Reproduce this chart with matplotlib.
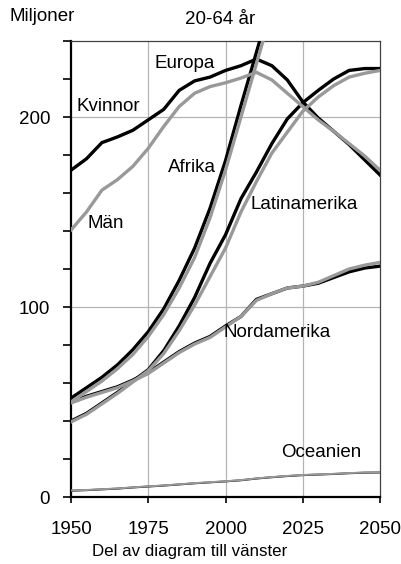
import matplotlib
matplotlib.use("Agg")
import matplotlib.pyplot as plt
from matplotlib.ticker import MultipleLocator

plt.rcParams['font.family'] = ['Liberation Sans', 'DejaVu Sans']

years = list(range(1950, 2051, 5))
years_afrika = list(range(1950, 2016, 5))

europa_kvinnor = [172, 178, 186.5, 189.5, 193, 198.5, 204, 214, 219, 221, 224.5,
                  227, 230.5, 227, 219.5, 208, 199.5, 192.5, 185.5, 177.5, 169.5]
europa_man = [140.5, 150, 161.5, 167, 174, 183.5, 195, 205.5, 212.5, 216, 218,
              220.5, 223.5, 219.5, 212.5, 205.5, 198.5, 192.5, 186, 179.5, 172]

latin_kvinnor = [40, 44, 49.5, 55, 61, 67, 77, 90, 105, 123, 138, 157, 171,
                 186, 199, 207.5, 214, 220, 224.5, 225.5, 225.5]
latin_man = [39.5, 43.5, 49, 54.5, 60.5, 66.5, 75.5, 87.5, 101, 116, 131, 150,
             166, 181, 192, 203, 210.5, 216.5, 221, 223, 224.5]

nord_kvinnor = [50, 53, 55.5, 58, 61.5, 65.5, 71, 76.5, 81, 84.5, 90, 95, 104,
                107, 110, 111, 112.5, 115.5, 118.5, 120.5, 121.5]
nord_man = [49.5, 52.5, 55, 57.5, 61, 65, 70.5, 76, 80.5, 84, 89.5, 95, 103.5,
            107, 110, 111, 113, 116.5, 120, 122, 123.5]

afrika_kvinnor = [52, 57.5, 63, 69.5, 77.5, 87, 99, 114, 131, 152, 177, 206, 234, 262]
afrika_man = [50, 55.5, 61, 67.5, 75, 84.5, 96, 110, 126, 147, 172, 200, 228, 256]

oceanien_kvinnor = [3.3, 3.6, 4, 4.4, 5, 5.5, 6, 6.6, 7.2, 7.7, 8.2, 8.8, 9.7,
                    10.4, 11, 11.5, 11.8, 12.1, 12.5, 12.8, 12.9]
oceanien_man = [3.4, 3.7, 4.1, 4.5, 5.1, 5.6, 6.1, 6.7, 7.3, 7.8, 8.3, 8.9, 9.8,
                10.5, 11.1, 11.6, 11.9, 12.2, 12.6, 12.9, 13.0]

region_labels = ["Europa", "Kvinnor", "Afrika", "Män", "Latinamerika",
                 "Nordamerika", "Oceanien"]
label_pos = [(1976.9, 228.3), (1951.8, 205.4), (1981.5, 173.5), (1955.3, 144),
             (2008.2, 153.7), (1999.5, 86.6), (2018, 23.2)]

W, H = 402, 564
fig = plt.figure(figsize=(W / 100, H / 100), dpi=100)
ax = fig.add_axes([71 / W, 1 - 497 / H, (380 - 71) / W, (497 - 41) / H])

BLACK = '#000000'
GRAY = '#999999'
LW = 2.4

pairs = [
    (years, europa_kvinnor, europa_man, LW),
    (years, latin_kvinnor, latin_man, LW),
    (years_afrika, afrika_kvinnor, afrika_man, LW),
    (years, nord_kvinnor, nord_man, LW),
    (years, oceanien_kvinnor, oceanien_man, 1.4),
]
for xs, kv, ma, lw in pairs:
    ax.plot(xs, kv, color=BLACK, lw=lw, solid_joinstyle='miter', zorder=3)
for xs, kv, ma, lw in pairs:
    ax.plot(xs, ma, color=GRAY, lw=lw, solid_joinstyle='miter', zorder=4)

ax.set_xlim(1950, 2050)
ax.set_ylim(0, 240)
ax.set_xticks([1950, 1975, 2000, 2025, 2050])
ax.set_yticks([0, 100, 200])
ax.yaxis.set_minor_locator(MultipleLocator(20))

for y in [100, 200]:
    ax.axhline(y, color='#b4b4b4', lw=0.9, zorder=1)
for x in [1975, 2000, 2025]:
    ax.axvline(x, color='#b4b4b4', lw=0.9, zorder=1)

for s in ['left', 'bottom']:
    ax.spines[s].set_color('black')
    ax.spines[s].set_linewidth(1.6)
for s in ['top', 'right']:
    ax.spines[s].set_color('#404040')
    ax.spines[s].set_linewidth(0.9)

ax.tick_params(axis='y', which='both', direction='out', length=5.5, width=1.2,
               labelsize=13.5, pad=9.5)
ax.tick_params(axis='x', which='both', direction='out', length=4, width=1.2,
               labelsize=13.5, pad=13)

for txt, (x, y) in zip(region_labels, label_pos):
    ax.text(x, y, txt, ha='left', va='center', fontsize=13.5, zorder=5)

fig.text(10 / W, 1 - 20.7 / H, "Miljoner", ha='left', va='baseline', fontsize=13.5)
fig.text(220.5 / W, 1 - 24 / H, "20-64 år", ha='center', va='baseline', fontsize=13.5)
fig.text(190 / W, 1 - 556 / H, "Del av diagram till vänster", ha='center',
         va='baseline', fontsize=12.2)

fig.savefig("out.png", dpi=100)
